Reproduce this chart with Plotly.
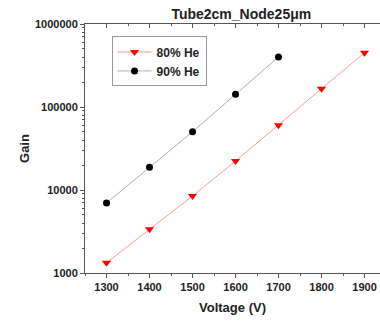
import plotly.graph_objects as go

voltage_80 = [1300, 1400, 1500, 1600, 1700, 1800, 1900]
gain_80 = [1330, 3360, 8470, 22300, 60100, 166000, 451000]
voltage_90 = [1300, 1400, 1500, 1600, 1700]
gain_90 = [6970, 18800, 50300, 142000, 400000]

title = "Tube2cm_Node25μm"
FONT = "Liberation Sans, Arial, sans-serif"
AX = "#555555"

fig = go.Figure()
fig.add_trace(go.Scatter(x=voltage_80, y=gain_80, mode="lines+markers", name="80% He",
                         line=dict(color="#ff9a9a", width=1),
                         marker=dict(symbol="triangle-down", color="#ff0000", size=8)))
fig.add_trace(go.Scatter(x=voltage_90, y=gain_90, mode="lines+markers", name="90% He",
                         line=dict(color="#b0b0b0", width=1),
                         marker=dict(symbol="circle", color="#000000", size=7)))
# invisible trace for top axis
fig.add_trace(go.Scatter(x=voltage_80, y=gain_80, xaxis="x2", mode="markers",
                         marker=dict(opacity=0), showlegend=False, hoverinfo="skip"))

fig.update_layout(
    width=380, height=321,
    margin=dict(l=85, r=0, t=24, b=48),
    paper_bgcolor="white", plot_bgcolor="white",
    font=dict(family=FONT, color="#222222"),
    title=dict(text=title, x=0.635, xanchor="center", y=0.955, yanchor="middle",
               font=dict(size=14, weight="bold", color="#222222")),
    showlegend=True,
    legend=dict(x=0.09, y=0.95, xanchor="left", yanchor="top",
                bordercolor="#999999", borderwidth=1, bgcolor="white",
                font=dict(size=12, weight="bold", color="#222222"),
                itemwidth=34, tracegroupgap=0),
    xaxis=dict(range=[1250, 1936], showgrid=False, zeroline=False,
               showline=True, linecolor=AX, linewidth=1,
               ticks="outside", ticklen=4, tickcolor=AX,
               tickvals=[1300, 1400, 1500, 1600, 1700, 1800, 1900],
               minor=dict(ticks="outside", ticklen=2, tickcolor=AX, dtick=50, tick0=1250),
               tickfont=dict(size=11, weight="bold", color="#222222"),
               title=dict(text="Voltage (V)", standoff=10,
                          font=dict(size=13, weight="bold", color="#222222"))),
    xaxis2=dict(overlaying="x", side="top", matches="x", showgrid=False, zeroline=False,
                showline=True, linecolor=AX, linewidth=1,
                ticks="inside", ticklen=4, tickcolor=AX, showticklabels=False,
                tickvals=[1300, 1400, 1500, 1600, 1700, 1800, 1900],
                minor=dict(ticks="inside", ticklen=2, tickcolor=AX, dtick=50, tick0=1250)),
    yaxis=dict(type="log", range=[3, 6], showgrid=False, zeroline=False,
               showline=True, linecolor=AX, linewidth=1,
               ticks="outside", ticklen=4, tickcolor=AX,
               tickvals=[1000, 10000, 100000, 1000000],
               ticktext=["1000", "10000", "100000", "1000000"],
               minor=dict(ticks="outside", ticklen=2, tickcolor=AX, dtick="D1"),
               tickfont=dict(size=11, weight="bold", color="#222222"),
               title=dict(text="Gain", standoff=2,
                          font=dict(size=13, weight="bold", color="#222222"))),
)

fig.write_html("out.html")
